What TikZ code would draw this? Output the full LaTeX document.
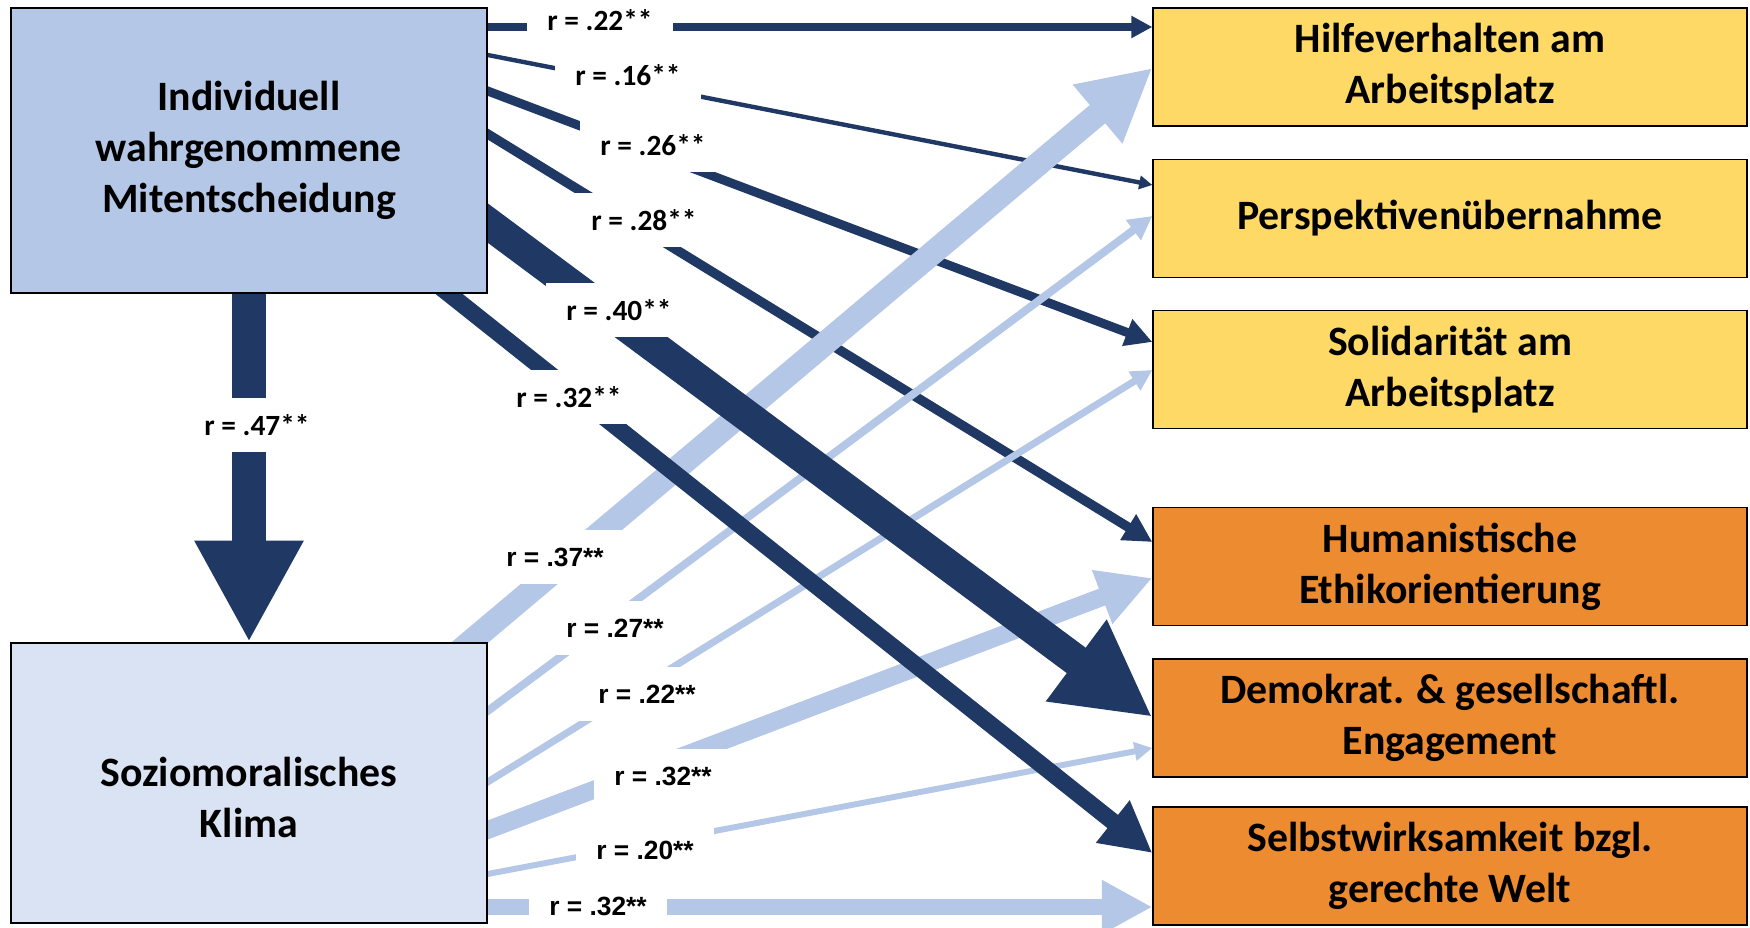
\documentclass[tikz,border=0pt]{standalone}
\usepackage{fontspec}
\setmainfont{Carlito}
\newfontfamily\arialfont{Liberation Sans}
\usetikzlibrary{arrows.meta,calc,backgrounds}
\definecolor{darkpath}{HTML}{1F3864}
\definecolor{lightpath}{HTML}{B4C7E7}
\definecolor{mitfill}{HTML}{B4C7E7}
\definecolor{klimafill}{HTML}{DAE3F3}
\definecolor{goldfill}{HTML}{FFD966}
\definecolor{orangefill}{HTML}{EC8B2F}
\tikzset{
    box/.style={draw=black, line width=0.8pt, inner sep=0pt, align=center, font=\fontsize{23.8}{29}\selectfont\bfseries},
    darkarr/.style={draw=darkpath, shorten <=-0.4cm, -{Triangle[length=0pt 3, width=0pt 3]}},
    lightarr/.style={draw=lightpath, shorten <=-0.4cm, -{Triangle[length=0pt 3, width=0pt 3]}},
    lab/.style={fill=white, inner xsep=0.4cm, inner ysep=0pt, minimum height=1.08cm, font=\fontsize{16.7}{20}\selectfont\bfseries},
    lablow/.style={lab, font=\arialfont\bfseries\fontsize{15}{18}\selectfont}
}
\begin{document}
\begin{tikzpicture}[x=0.02cm, y=-0.02cm]
            \useasboundingbox (0,0) rectangle (1750,928);
            \node[box, fill=mitfill, minimum width=9.52cm, minimum height=5.7cm] (mit) at (249,150.5) {Individuell\\wahrgenommene\\Mitentscheidung};
            \node[box, fill=klimafill, minimum width=9.52cm, minimum height=5.6cm] (klima) at (249,783) {\rule{0pt}{1.16cm}Soziomoralisches\\Klima};
            \foreach \n/\y/\col/\txt in {hilfe/67/goldfill/{Hilfeverhalten am\\Arbeitsplatz}, persp/218.5/goldfill/{Perspektivenübernahme}, soli/369.5/goldfill/{Solidarität am\\Arbeitsplatz}, human/566.5/orangefill/{Humanistische\\Ethikorientierung}, demo/718/orangefill/{Demokrat. \& gesellschaftl.\\Engagement}, selbst/866/orangefill/{Selbstwirksamkeit bzgl.\\gerechte Welt}}{
                \node[box, fill=\col, minimum width=11.88cm, minimum height=2.36cm] (\n) at (1450,\y) {\txt};
            }
            \begin{scope}[on background layer]
            \foreach \sy/\tgt/\ty/\w in {-123.5/hilfe/-40/4, -95.5/persp/-33.5/2.5, -59.5/soli/-27.5/5.1, -16.5/human/-24.5/5.4}{
                \draw[darkarr, line width=\w pt] ($(mit.east)+(0,\sy)$) -- ($(\tgt.west)+(0,\ty)$);
            }
            \foreach \sx/\sy/\tgt/\ty/\w in {-18.5/-140/hilfe/1/13.6, 0/-72/persp/-2.5/4.5, 0/-1/soli/0.5/4, 0/47/human/11.5/10.2, 0/91/demo/30/3.4, 0/124/selbst/41/9.6}{
                \draw[lightarr, line width=\w pt] ($(klima.east)+(\sx,\sy)$) -- ($(\tgt.west)+(0,\ty)$);
            }
            \draw[darkarr, line width=18pt] ($(mit.east)+(0,72.5)$) -- ($(demo.west)+(0,-1)$);
            \draw[darkarr, line width=9.6pt] ($(mit.south east)+(-39,0)$) -- ($(selbst.west)+(0,-13)$);
            \draw[darkarr, line width=19.3pt] (mit) -- (klima);
            \end{scope}
            \foreach \n/\x/\y/\val in {la/600/20/.22, lb/628/75/.16, lc/653/145/.26, ld/644/220/.28, le/619/310/.40, lf/569/397/.32, lg/257/425/.47}{
                \node[lab] (\n) at (\x,\y) {r = \val**};
            }
            \foreach \n/\x/\y/\val in {lh/555/557/.37, li/615/628/.27, lj/647/694/.22, lk/663/776/.32, ll/645/850/.20, lm/598/906/.32}{
                \node[lablow] (\n) at (\x,\y) {r = \val**};
            }
\end{tikzpicture}
\end{document}
